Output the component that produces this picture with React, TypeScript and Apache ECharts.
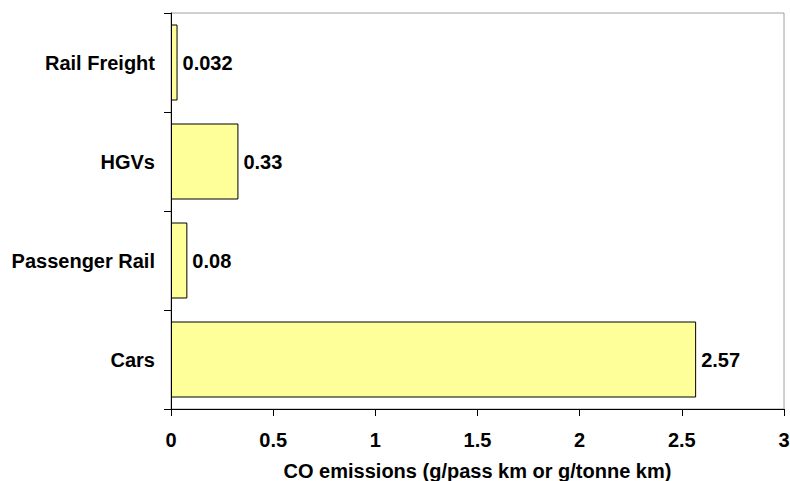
import React, { useEffect, useRef } from "react";
import * as echarts from "echarts";

const categories = ["Cars", "Passenger Rail", "HGVs", "Rail Freight"];
const values = [2.57, 0.08, 0.33, 0.032];
const valueLabels = ["2.57", "0.08", "0.33", "0.032"];
const xTicks = { min: 0, max: 3, interval: 0.5 };
const xAxisTitle = "CO emissions (g/pass km or g/tonne km)";

export default function App() {
  const ref = useRef<HTMLDivElement>(null);
  useEffect(() => {
    if (!ref.current) return;
    const chart = echarts.init(ref.current, null, { renderer: "svg" });
    const font = "'Liberation Sans', Arial, sans-serif";
    const fs = 20;
    chart.setOption({
      animation: false,
      backgroundColor: "#ffffff",
      grid: {
        left: 171,
        right: 6,
        top: 13,
        bottom: 72,
        outerBoundsMode: "none",
        containLabel: false,
        show: true,
        borderColor: "#a0a0a0",
        borderWidth: 1,
        backgroundColor: "transparent",
      },
      xAxis: {
        type: "value",
        min: xTicks.min,
        max: xTicks.max,
        interval: xTicks.interval,
        name: xAxisTitle,
        nameLocation: "middle",
        nameGap: 52,
        nameTextStyle: { fontFamily: font, fontWeight: "bold", fontSize: fs, color: "#000" },
        axisLine: { show: true, lineStyle: { color: "#000", width: 1 } },
        axisTick: { show: true, length: 7, lineStyle: { color: "#000" } },
        axisLabel: {
          fontFamily: font,
          fontWeight: "bold",
          fontSize: fs,
          color: "#000",
          margin: 21,
          formatter: (v: number) => String(v),
        },
        splitLine: { show: false },
      },
      yAxis: {
        type: "category",
        data: categories,
        axisLine: { show: true, lineStyle: { color: "#000", width: 1 } },
        axisTick: { show: true, length: 7, inside: false, lineStyle: { color: "#000" } },
        axisLabel: {
          fontFamily: font,
          fontWeight: "bold",
          fontSize: fs,
          color: "#000",
          margin: 16,
        },
        splitLine: { show: false },
      },
      series: [
        {
          type: "bar",
          data: values,
          barWidth: 76,
          itemStyle: { color: "#FFFF99", borderColor: "#000", borderWidth: 1 },
          label: {
            show: true,
            position: "right",
            distance: 5,
            fontFamily: font,
            fontWeight: "bold",
            fontSize: fs,
            color: "#000",
            formatter: (p: any) => valueLabels[p.dataIndex],
          },
        },
      ],
    });
    return () => chart.dispose();
  }, []);
  return (
    <div
      ref={ref}
      style={{ position: "fixed", left: 0, top: 0, width: 790, height: 481 }}
    />
  );
}
